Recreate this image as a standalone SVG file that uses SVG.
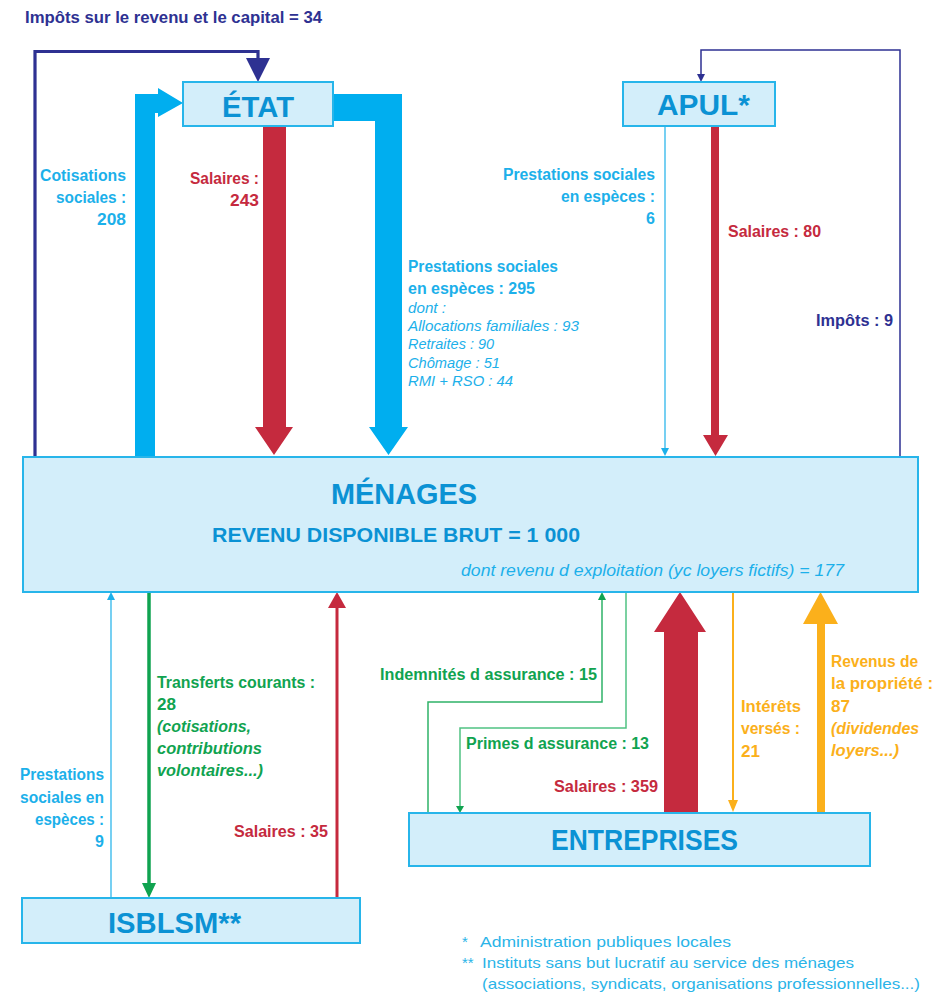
<svg xmlns="http://www.w3.org/2000/svg" width="946" height="993" viewBox="0 0 946 993">
<style>
text{font-family:"Liberation Sans",Arial,sans-serif;}
.box{fill:#d3eefa;stroke:#27b5ea;stroke-width:2;}
.bt{fill:#0b92d4;font-weight:bold;}
.big{font-size:30px;}
.lb{font-size:16px;font-weight:bold;}
.it{font-size:14px;font-style:italic;}
.cy{fill:#1cb0ea;}
.rd{fill:#c52a3e;}
.db{fill:#2e3192;}
.gr{fill:#10a350;}
.or{fill:#fbb01b;}
.fn{font-size:15px;fill:#2ab4e8;}
</style>
<g id="connectors">
  <!-- Impôts sur le revenu 34 -->
  <path d="M35,457 V51.5 H258 V60" fill="none" stroke="#2e3192" stroke-width="3.2"/>
  <polygon points="246,58 270,58 258,82" fill="#2e3192"/>
  <!-- Cotisations 208 -->
  <polygon points="135,457 135,94 158,94 158,88 183,103 158,117 158,113 155,113 155,457" fill="#00aeef"/>
  <!-- Prestations 295 -->
  <polygon points="333,94 402,94 402,427 408,427 388.5,455 369,427 375,427 375,121 333,121" fill="#00aeef"/>
  <!-- Salaires 243 -->
  <polygon points="263,126 286,126 286,427 293,427 274,455 255,427 263,427" fill="#c52a3e"/>
  <!-- APUL Impôts 9 -->
  <path d="M900,457 V50 H701 V75" fill="none" stroke="#2e3192" stroke-width="1.5"/>
  <polygon points="697,74 705,74 701,82" fill="#2e3192"/>
  <!-- APUL Salaires 80 -->
  <polygon points="711,126 719,126 719,435 728,435 715.5,456 703,435 711,435" fill="#c52a3e"/>
  <!-- APUL Prestations 6 -->
  <line x1="665" y1="126" x2="665" y2="449" stroke="#1cb0ea" stroke-width="1.2"/>
  <polygon points="661,448 669,448 665,456" fill="#1cb0ea"/>
  <!-- ISBLSM Prestations 9 -->
  <line x1="111" y1="898" x2="111" y2="599" stroke="#1cb0ea" stroke-width="1.2"/>
  <polygon points="107,600 115,600 111,592" fill="#1cb0ea"/>
  <!-- Transferts 28 -->
  <line x1="149" y1="592" x2="149" y2="884" stroke="#10a350" stroke-width="3.5"/>
  <polygon points="142,883 156,883 149,898" fill="#10a350"/>
  <!-- Salaires 35 -->
  <line x1="337" y1="898" x2="337" y2="607" stroke="#c52a3e" stroke-width="3"/>
  <polygon points="328,608 346,608 337,592" fill="#c52a3e"/>
  <!-- Indemnités 15 -->
  <path d="M428,813 V702 H602 V599" fill="none" stroke="#2fb368" stroke-width="1.5"/>
  <polygon points="598,600 606,600 602,592" fill="#10a350"/>
  <!-- Primes 13 -->
  <path d="M626,592 V728 H460 V807" fill="none" stroke="#50c282" stroke-width="1.5"/>
  <polygon points="456,806 464,806 460,813" fill="#10a350"/>
  <!-- Salaires 359 -->
  <polygon points="664,813 698,813 698,632 706,632 680,592 654,632 664,632" fill="#c52a3e"/>
  <!-- Intérêts 21 -->
  <line x1="733" y1="592" x2="733" y2="801" stroke="#fbb01b" stroke-width="2"/>
  <polygon points="728,800 738,800 733,812" fill="#fbb01b"/>
  <!-- Revenus 87 -->
  <polygon points="817,813 825,813 825,624 838,624 820.5,592 803,624 817,624" fill="#fbb01b"/>
</g>
<g id="etat">
  <rect class="box" x="183" y="82" width="150" height="44"/>
  <text class="bt big" x="258" y="117" text-anchor="middle" textLength="72" lengthAdjust="spacingAndGlyphs">ÉTAT</text>
</g>
<g id="apul">
  <rect class="box" x="623" y="82" width="152" height="44"/>
  <text class="bt big" x="657" y="115" textLength="93" lengthAdjust="spacingAndGlyphs">APUL*</text>
</g>
<g id="menages">
  <rect class="box" x="23" y="457" width="895" height="135"/>
  <text class="bt big" x="331" y="504" textLength="146" lengthAdjust="spacingAndGlyphs">MÉNAGES</text>
  <text class="bt" x="212" y="542" font-size="20" textLength="368" lengthAdjust="spacingAndGlyphs">REVENU DISPONIBLE BRUT = 1 000</text>
  <text class="cy" x="461" y="576" font-size="16" font-style="italic" textLength="383" lengthAdjust="spacingAndGlyphs">dont revenu d exploitation (yc loyers fictifs) = 177</text>
</g>
<g id="isblsm">
  <rect class="box" x="22" y="898" width="338" height="45"/>
  <text class="bt big" x="108" y="933" textLength="133" lengthAdjust="spacingAndGlyphs">ISBLSM**</text>
</g>
<g id="entreprises">
  <rect class="box" x="409" y="813" width="461" height="53"/>
  <text class="bt big" x="551" y="850" textLength="187" lengthAdjust="spacingAndGlyphs">ENTREPRISES</text>
</g>
<g id="labels">
  <text class="lb db" x="25" y="23" font-size="16.5" textLength="297" lengthAdjust="spacingAndGlyphs">Impôts sur le revenu et le capital = 34</text>

  <text class="lb cy" x="126" y="181" text-anchor="end" textLength="86" lengthAdjust="spacingAndGlyphs">Cotisations</text>
  <text class="lb cy" x="126" y="203" text-anchor="end" textLength="70" lengthAdjust="spacingAndGlyphs">sociales :</text>
  <text class="lb cy" x="126" y="225" text-anchor="end" textLength="29" lengthAdjust="spacingAndGlyphs">208</text>

  <text class="lb rd" x="259" y="184" text-anchor="end" textLength="69" lengthAdjust="spacingAndGlyphs">Salaires :</text>
  <text class="lb rd" x="259" y="206" text-anchor="end" textLength="29" lengthAdjust="spacingAndGlyphs">243</text>

  <text class="lb cy" x="408" y="272" textLength="150" lengthAdjust="spacingAndGlyphs">Prestations sociales</text>
  <text class="lb cy" x="408" y="294" textLength="127" lengthAdjust="spacingAndGlyphs">en espèces : 295</text>
  <text class="it cy" x="408" y="313" textLength="38" lengthAdjust="spacingAndGlyphs">dont :</text>
  <text class="it cy" x="408" y="331" textLength="171" lengthAdjust="spacingAndGlyphs">Allocations familiales : 93</text>
  <text class="it cy" x="408" y="349" textLength="86" lengthAdjust="spacingAndGlyphs">Retraites : 90</text>
  <text class="it cy" x="408" y="368" textLength="92" lengthAdjust="spacingAndGlyphs">Chômage : 51</text>
  <text class="it cy" x="408" y="386" textLength="105" lengthAdjust="spacingAndGlyphs">RMI + RSO : 44</text>

  <text class="lb cy" x="655" y="180" text-anchor="end" textLength="152" lengthAdjust="spacingAndGlyphs">Prestations sociales</text>
  <text class="lb cy" x="655" y="202" text-anchor="end" textLength="94" lengthAdjust="spacingAndGlyphs">en espèces :</text>
  <text class="lb cy" x="655" y="224" text-anchor="end">6</text>

  <text class="lb rd" x="728" y="237" textLength="93" lengthAdjust="spacingAndGlyphs">Salaires : 80</text>
  <text class="lb db" x="893" y="326" text-anchor="end" textLength="77" lengthAdjust="spacingAndGlyphs">Impôts : 9</text>

  <text class="lb cy" x="104" y="780" text-anchor="end" textLength="84" lengthAdjust="spacingAndGlyphs">Prestations</text>
  <text class="lb cy" x="104" y="803" text-anchor="end" textLength="84" lengthAdjust="spacingAndGlyphs">sociales en</text>
  <text class="lb cy" x="104" y="825" text-anchor="end" textLength="69" lengthAdjust="spacingAndGlyphs">espèces :</text>
  <text class="lb cy" x="104" y="847" text-anchor="end">9</text>

  <text class="lb gr" x="157" y="688" textLength="158" lengthAdjust="spacingAndGlyphs">Transferts courants :</text>
  <text class="lb gr" x="157" y="710" textLength="19" lengthAdjust="spacingAndGlyphs">28</text>
  <text class="lb gr" x="157" y="732" font-style="italic" textLength="94" lengthAdjust="spacingAndGlyphs">(cotisations,</text>
  <text class="lb gr" x="157" y="754" font-style="italic" textLength="105" lengthAdjust="spacingAndGlyphs">contributions</text>
  <text class="lb gr" x="157" y="776" font-style="italic" textLength="106" lengthAdjust="spacingAndGlyphs">volontaires...)</text>

  <text class="lb rd" x="328" y="837" text-anchor="end" textLength="94" lengthAdjust="spacingAndGlyphs">Salaires : 35</text>

  <text class="lb gr" x="597" y="680" text-anchor="end" textLength="217" lengthAdjust="spacingAndGlyphs">Indemnités d assurance : 15</text>
  <text class="lb gr" x="466" y="749" textLength="183" lengthAdjust="spacingAndGlyphs">Primes d assurance : 13</text>
  <text class="lb rd" x="658" y="792" text-anchor="end" textLength="104" lengthAdjust="spacingAndGlyphs">Salaires : 359</text>

  <text class="lb or" x="741" y="712" textLength="60" lengthAdjust="spacingAndGlyphs">Intérêts</text>
  <text class="lb or" x="741" y="734" textLength="59" lengthAdjust="spacingAndGlyphs">versés :</text>
  <text class="lb or" x="741" y="757" textLength="19" lengthAdjust="spacingAndGlyphs">21</text>

  <text class="lb or" x="831" y="667" textLength="87" lengthAdjust="spacingAndGlyphs">Revenus de</text>
  <text class="lb or" x="831" y="689" textLength="102" lengthAdjust="spacingAndGlyphs">la propriété :</text>
  <text class="lb or" x="831" y="712" textLength="19" lengthAdjust="spacingAndGlyphs">87</text>
  <text class="lb or" x="831" y="734" font-style="italic" textLength="88" lengthAdjust="spacingAndGlyphs">(dividendes</text>
  <text class="lb or" x="831" y="756" font-style="italic" textLength="68" lengthAdjust="spacingAndGlyphs">loyers...)</text>
</g>
<g id="footnotes">
  <text class="fn" x="462" y="947">*</text>
  <text class="fn" x="480" y="947" textLength="251" lengthAdjust="spacingAndGlyphs">Administration publiques locales</text>
  <text class="fn" x="462" y="968">**</text>
  <text class="fn" x="482" y="968" textLength="372" lengthAdjust="spacingAndGlyphs">Instituts sans but lucratif au service des ménages</text>
  <text class="fn" x="482" y="989" textLength="438" lengthAdjust="spacingAndGlyphs">(associations, syndicats, organisations professionnelles...)</text>
</g>
</svg>
